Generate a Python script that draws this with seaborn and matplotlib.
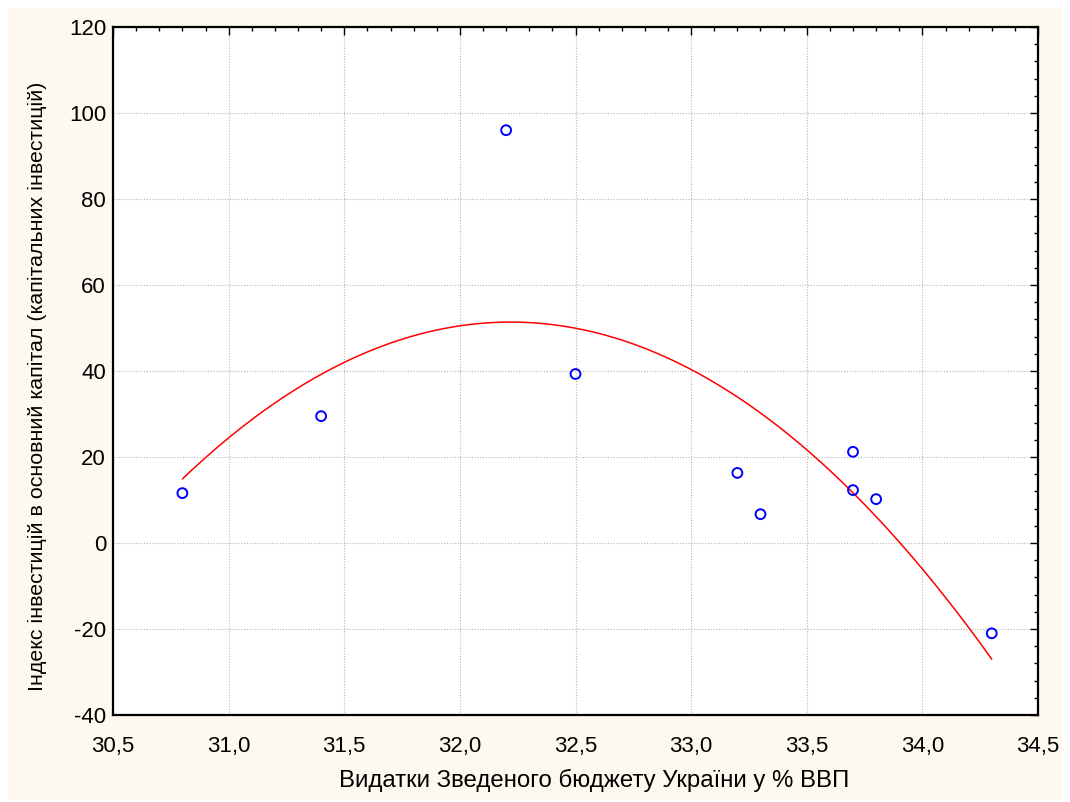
import numpy as np
import pandas as pd
import seaborn as sns
import matplotlib.pyplot as plt
from matplotlib.patches import Rectangle
from matplotlib.ticker import MultipleLocator

# data
budget_share = [30.8, 31.4, 32.2, 32.5, 33.2, 33.3, 33.7, 33.7, 33.8, 34.3]
invest_index = [11.6, 29.5, 96.0, 39.3, 16.3, 6.7, 21.2, 12.3, 10.2, -21.0]

x_ticks = [30.5, 31.0, 31.5, 32.0, 32.5, 33.0, 33.5, 34.0, 34.5]
x_labels = ['30,5', '31,0', '31,5', '32,0', '32,5', '33,0', '33,5', '34,0', '34,5']
y_ticks = [-40, -20, 0, 20, 40, 60, 80, 100, 120]

df = pd.DataFrame({'x': budget_share, 'y': invest_index})

sns.set_style('white')
plt.rcParams['font.family'] = ['Liberation Sans', 'DejaVu Sans']
plt.rcParams['axes.unicode_minus'] = False
plt.rcParams['text.color'] = 'black'

fig = plt.figure(figsize=(10.7, 8.02), dpi=100)
fig.patch.set_facecolor('white')
fig.patches.append(Rectangle((8 / 1070, 2 / 802), 1054 / 1070, 792 / 802,
                             transform=fig.transFigure, facecolor='#fdf9ee',
                             edgecolor='none', zorder=-1))
ax = fig.add_axes([113 / 1070, 1 - 715 / 802, 925 / 1070, 688 / 802])
ax.set_facecolor('white')

# quadratic fit line
sns.regplot(data=df, x='x', y='y', order=2, ci=None, scatter=False, ax=ax,
            line_kws={'color': 'red', 'lw': 1.1})
sns.scatterplot(data=df, x='x', y='y', ax=ax, marker='o', s=50,
                facecolor='none', edgecolor='blue', linewidth=1.4, zorder=3)

ax.set_xlim(30.5, 34.5)
ax.set_ylim(-40, 120)
ax.set_xticks(x_ticks)
ax.set_xticklabels(x_labels)
ax.set_yticks(y_ticks)
ax.xaxis.set_minor_locator(MultipleLocator(0.1))
ax.yaxis.set_minor_locator(MultipleLocator(4))
ax.tick_params(which='both', direction='in', top=True, right=True,
               labelsize=16, colors='black')
ax.tick_params(which='major', length=6, width=1)
ax.tick_params(which='minor', length=3, width=1)
ax.tick_params(axis='x', pad=15)
ax.tick_params(axis='y', pad=5)
ax.grid(True, which='major', linestyle=(0, (1, 1.5)), color='#b4b4b4', linewidth=0.8)
for sp in ax.spines.values():
    sp.set_color('black')
    sp.set_linewidth(1.6)

ax.set_xlabel('Видатки Зведеного бюджету України у % ВВП', fontsize=17.3,
              labelpad=9, color='black')
ax.set_ylabel('Індекс інвестицій в основний капітал (капітальних інвестицій)',
              fontsize=15.4, labelpad=16, color='black')
ax.xaxis.label.set_x(0.52)
ax.yaxis.label.set_y(0.4775)

plt.savefig('out.png', dpi=100)
